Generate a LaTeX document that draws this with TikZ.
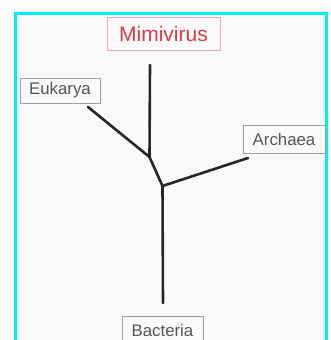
\documentclass[tikz,border=0pt]{standalone}
\usepackage{fontspec}
\setmainfont{Liberation Sans}
\definecolor{framecyan}{RGB}{0,240,250}
\definecolor{labelgray}{RGB}{85,85,85}
\definecolor{boxgray}{RGB}{160,160,160}
\definecolor{virusred}{RGB}{215,60,70}
\definecolor{virusbox}{RGB}{235,170,175}
\tikzset{
  taxon/.style={draw=boxgray, line width=0.8pt, text=labelgray, inner sep=0pt,
    font=\fontsize{16.8}{18}\selectfont, anchor=center},
  virus/.style={draw=virusbox, line width=0.8pt, text=virusred, inner sep=0pt,
    font=\fontsize{21}{23}\selectfont, anchor=center},
  branch/.style={draw=black!85, line width=2.6pt, line cap=round, line join=round}
}
\begin{document}
\begin{tikzpicture}[x=1pt,y=-1pt]
\useasboundingbox (0,0) rectangle (331,340);
\fill[white] (0,0) rectangle (331,340);
\fill[black!2] (16,14) rectangle (326,340);
\draw[framecyan, line width=3pt] (15.5,13) rectangle (326,350);
% labels
\node[virus, minimum width=113pt, minimum height=33pt] (mimi) at (163.5,33.5) {Mimivirus};
\node[taxon, minimum width=80pt, minimum height=25pt] (euk) at (60,90.5) {Eukarya};
\node[taxon, minimum width=82pt, minimum height=28pt] (arc) at (284,139) {Archaea};
\node[taxon, minimum width=81pt, minimum height=28pt] (bac) at (162.5,330) {Bacteria};
% tree
\coordinate (mend) at (150,65);
\coordinate (eend) at (88,107);
\coordinate (aend) at (248,158);
\coordinate (bend) at (163,303);
\coordinate (j1) at (149.5,157);
\coordinate (j2) at (162.5,186);
\draw[branch] (mend) -- (j1);
\draw[branch] (eend) -- (j1);
\draw[branch] (j1) -- (j2);
\draw[branch] (j2) -- (aend);
\draw[branch] (j2) -- (bend);
\end{tikzpicture}
\end{document}
